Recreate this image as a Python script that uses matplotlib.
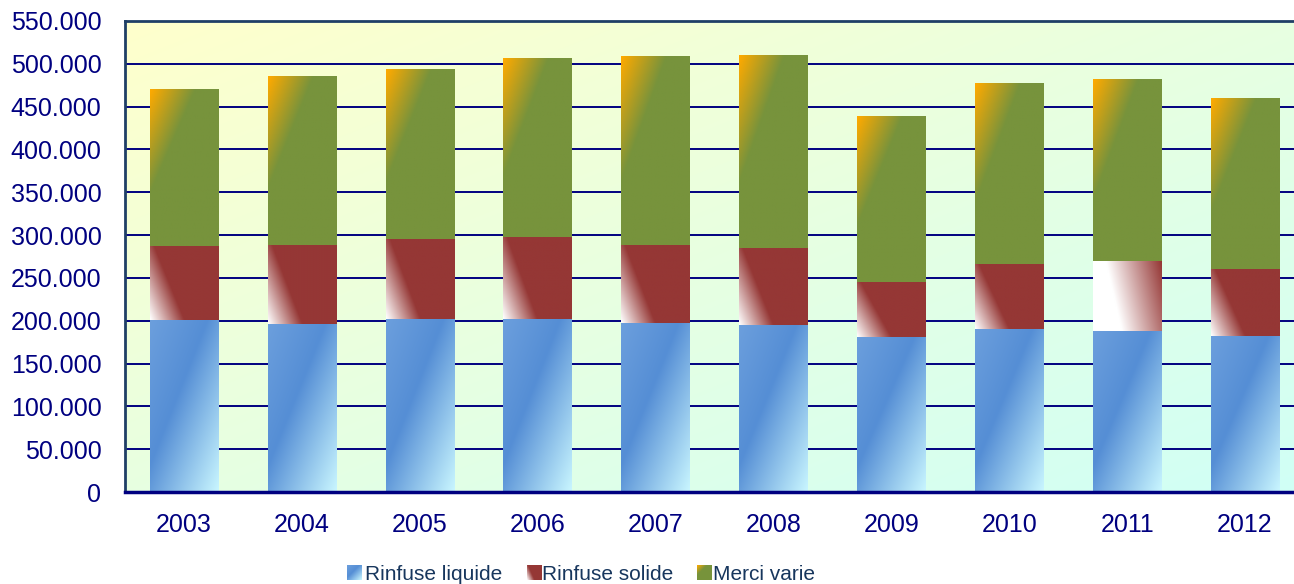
import numpy as np
import matplotlib.pyplot as plt
from matplotlib.colors import to_rgb

# dati (tonnellate)
anni = ['2003', '2004', '2005', '2006', '2007', '2008', '2009', '2010', '2011', '2012']
rinfuse_liquide = [200900, 196300, 202100, 202100, 197400, 195100, 181100, 190400, 188100, 182200]
rinfuse_solide = [86500, 92300, 93500, 95800, 91200, 89900, 64200, 76000, 81800, 78300]
merci_varie = [182200, 196200, 197400, 207900, 220700, 224300, 192800, 210200, 211400, 198600]
serie = ['Rinfuse liquide', 'Rinfuse solide', 'Merci varie']
yticks = list(range(0, 550001, 50000))

W, H = 1294, 584
BLU_SCURO = '#000080'


def sfuma(stops, t):
    pos = [p for p, c in stops]
    cols = np.array([to_rgb(c) for p, c in stops])
    out = np.zeros(t.shape + (3,))
    for k in range(3):
        out[..., k] = np.interp(t, pos, cols[:, k])
    return out


# u: 0 sinistra -> 1 destra, v: 0 alto -> 1 basso
def grad_blu(u, v):
    t = (u + v) / 2
    return sfuma([(0, '#6c9fdd'), (0.42, '#558ed5'), (1, '#c9f6ff')], t)


def grad_rosso(u, v):
    t = np.clip(2.0 * u + 0.9 * (1 - v), 0, 1)
    return sfuma([(0, '#ffffff'), (1, '#953735')], t)


def grad_rosso_strano(u, v):
    # il 2011 ha una sfumatura diversa
    t = np.clip((u + 0.24 * (1 - v) - 0.42) / 0.82, 0, 1)
    return sfuma([(0, '#ffffff'), (1, '#953735')], t)


def grad_verde(u, v):
    t = (u + v) / 2
    return sfuma([(0, '#ffaa00'), (0.33, '#77933c'), (1, '#77933c')], t)


def griglia(nx=60, ny=120):
    return np.meshgrid(np.linspace(0, 1, nx), np.linspace(0, 1, ny))


def riempi(ax, rect, funz):
    x0, y0 = rect.get_xy()
    w, h = rect.get_width(), rect.get_height()
    u, v = griglia()
    ax.imshow(funz(u, v), extent=[x0, x0 + w, y0, y0 + h], origin='upper',
              aspect='auto', interpolation='bilinear', zorder=2)


fig = plt.figure(figsize=(W / 100, H / 100), dpi=100)
ax = fig.add_axes([125 / W, (H - 492) / H, (1304 - 125) / W, (492 - 21) / H])

# sfondo sfumato
u, v = griglia(300, 300)
sfondo = sfuma([(0, '#ffffcc'), (1, '#d0fff6')], (u + v) / 2)
ax.imshow(sfondo, extent=[0, 1, 0, 1], transform=ax.transAxes, origin='upper',
          aspect='auto', interpolation='bilinear', zorder=-2)

x = np.arange(len(anni))
larg = 0.58
liq = np.array(rinfuse_liquide)
sol = np.array(rinfuse_solide)
mer = np.array(merci_varie)

b1 = ax.bar(x, liq, larg, color='none', linewidth=0)
b2 = ax.bar(x, sol, larg, bottom=liq, color='none', linewidth=0)
b3 = ax.bar(x, mer, larg, bottom=liq + sol, color='none', linewidth=0)

for i in range(len(anni)):
    riempi(ax, b1[i], grad_blu)
    riempi(ax, b2[i], grad_rosso_strano if anni[i] == '2011' else grad_rosso)
    riempi(ax, b3[i], grad_verde)

ax.set_xlim(-0.5, len(anni) - 0.5)
ax.set_ylim(0, 550000)
ax.set_xticks(x)
ax.set_xticklabels(anni)
ax.set_yticks(yticks)
ax.set_yticklabels(['{:,}'.format(t).replace(',', '.') for t in yticks])
ax.tick_params(length=0, labelsize=18, labelcolor=BLU_SCURO)
ax.tick_params(axis='y', pad=17)
ax.tick_params(axis='x', pad=15)
for lab in ax.get_xticklabels() + ax.get_yticklabels():
    lab.set_family('Liberation Sans')

ax.yaxis.grid(True, color=BLU_SCURO, lw=1.4, zorder=-1)
ax.set_axisbelow(True)
ax.spines['right'].set_visible(False)
ax.spines['left'].set_color('#1f3f66')
ax.spines['left'].set_linewidth(2)
ax.spines['top'].set_color('#1f3f66')
ax.spines['top'].set_linewidth(2)
ax.spines['bottom'].set_color(BLU_SCURO)
ax.spines['bottom'].set_linewidth(2.5)

# legenda fatta a mano
funzioni = [grad_blu, grad_rosso, grad_verde]
pos_quad = [347, 527, 697]
pos_testo = [365, 542, 713]
for nome, f, xq, xt in zip(serie, funzioni, pos_quad, pos_testo):
    axl = fig.add_axes([xq / W, (H - 580) / H, 15 / W, 15 / H])
    uu, vv = griglia(30, 30)
    axl.imshow(f(uu, vv), aspect='auto', interpolation='bilinear')
    axl.axis('off')
    fig.text(xt / W, (H - 580) / H, nome, fontsize=15, color='#17365d', va='baseline',
             family='Liberation Sans')

fig.savefig('out.png', dpi=100)
